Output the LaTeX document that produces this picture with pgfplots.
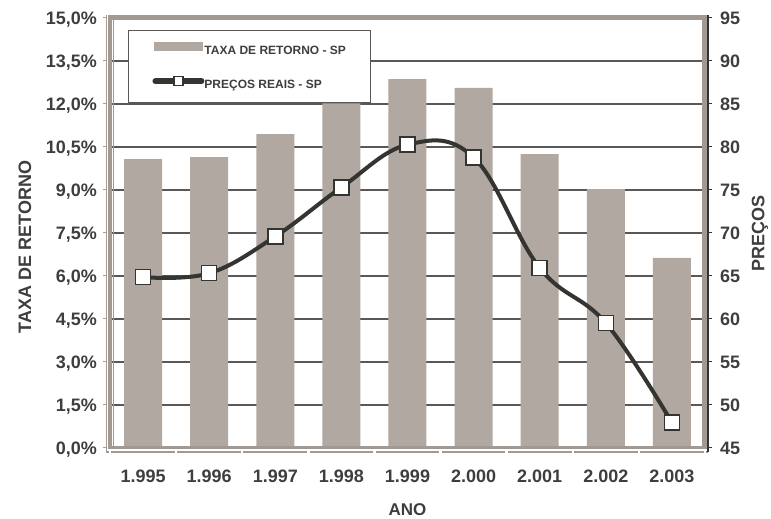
\documentclass[border=0pt]{standalone}
\usepackage{pgfplots}
\pgfplotsset{compat=1.18}
\usepackage{fontspec}
\setmainfont{Liberation Sans}
\definecolor{barC}{RGB}{177,168,161}
\definecolor{frameC}{RGB}{163,153,147}
\definecolor{lineC}{RGB}{52,52,48}
\definecolor{txtC}{RGB}{62,62,62}
\definecolor{gridC}{RGB}{88,88,88}
\begin{document}
\begin{tikzpicture}
\useasboundingbox (-110pt,-71pt) rectangle (661pt,448pt);
\pgfplotsset{
  base/.style={at={(0pt,0pt)}, anchor=south west, scale only axis,
    width=595pt, height=430pt, xmin=-0.5, xmax=8.5,
    axis line style={draw=none}, major tick length=0pt, tick style={draw=none},
    /pgf/number format/assume math mode=true},
  tl/.style={font=\fontsize{18}{18}\selectfont\bfseries, text=txtC},
}
\begin{axis}[base, ymin=0, ymax=15,
  ybar, bar width=38pt, bar shift=0pt,
  xtick={0,...,8},
  xticklabels={1.995,1.996,1.997,1.998,1.999,2.000,2.001,2.002,2.003},
  xticklabel style={tl, anchor=north, inner sep=0pt, yshift=-22pt},
  ytick={0,1.5,3,4.5,6,7.5,9,10.5,12,13.5,15},
  yticklabels={{0,0\%},{1,5\%},{3,0\%},{4,5\%},{6,0\%},{7,5\%},{9,0\%},{10,5\%},{12,0\%},{13,5\%},{15,0\%}},
  yticklabel style={tl, anchor=base east, inner sep=0pt, xshift=-13pt, yshift=-6.4pt},
  ymajorgrids, grid style={draw=gridC, line width=1.2pt},
  ylabel={TAXA DE RETORNO},
  every axis y label/.style={at={(axis description cs:-0.1429,0.4674)}, rotate=90, anchor=center,
    font=\fontsize{18}{18}\selectfont\bfseries, text=txtC},
  xlabel={ANO},
  every axis x label/.style={at={(axis description cs:0.5,-0.1442)}, anchor=center,
    font=\fontsize{17}{17}\selectfont\bfseries, text=txtC},
]
\addplot[fill=barC, draw=none] coordinates {
 (0,10.08) (1,10.15) (2,10.95) (3,12.02) (4,12.87) (5,12.56) (6,10.25) (7,9.03) (8,6.63)};
\end{axis}
% plot-area frame and axis lines
\fill[frameC] (-2pt,428pt) rectangle (597pt,433pt);
\fill[frameC] (592pt,0pt) rectangle (597pt,433pt);
\fill[frameC] (-2pt,-1pt) rectangle (2pt,433pt);
\fill[frameC] (-2pt,-1pt) rectangle (597pt,2pt);
\draw[frameC, line width=1pt] (3.8pt,2pt) -- (3.8pt,428pt);
\draw[frameC, line width=1.2pt] (-3.8pt,-4pt) -- (-3.8pt,433pt);
\foreach \k in {0,...,10} \draw[frameC, line width=1pt] (-3.8pt,\k*43pt) -- (-6.5pt,\k*43pt);
\draw[frameC, line width=2pt] (-3.8pt,-4pt) -- (598pt,-4pt);
\foreach \k in {0,...,9} \fill[white] ({\k*66.11pt-1.2pt},-5.5pt) rectangle ({\k*66.11pt+1.2pt},-2.5pt);
\draw[lineC, line width=1.5pt] (598pt,-4.5pt) -- (598pt,433pt);
\foreach \k in {0,...,10} \draw[lineC, line width=1pt] (598pt,\k*43pt) -- (602pt,\k*43pt);
\begin{axis}[base, ymin=45, ymax=95, hide x axis,
  ytick={45,50,55,60,65,70,75,80,85,90,95},
  yticklabel pos=right,
  yticklabel style={tl, anchor=base west, inner sep=0pt, xshift=15pt, yshift=-6.4pt},
  ylabel={PREÇOS},
  every axis y label/.style={at={(axis description cs:1.0924,0.5)}, rotate=90, anchor=center,
    font=\fontsize{18}{18}\selectfont\bfseries, text=txtC},
  legend style={at={(axis description cs:0.0303,0.9721)}, anchor=north west,
    draw=gridC, line width=0.8pt, fill=white, inner xsep=24pt, inner ysep=12pt,
    row sep=20pt, column sep=0pt,
    nodes={inner sep=0pt, font=\fontsize{12}{12}\selectfont\bfseries, text=txtC}},
  legend cell align=left,
]
\addlegendimage{legend image code/.code={\fill[barC] (0pt,0.3pt) rectangle (48pt,8.3pt);}}
\addlegendentry{TAXA DE RETORNO - SP}
\addplot[lineC, line width=4pt, smooth, tension=0.65, mark=square*, mark size=7.5pt,
  mark options={fill=white, draw=lineC, line width=1.5pt},
  legend image code/.code={
    \draw[lineC, line width=6pt, line cap=round] (1pt,4.3pt) -- (47pt,4.3pt);
    \draw[lineC, fill=white, line width=1.3pt] (19.5pt,-0.2pt) rectangle (28.5pt,8.8pt);}]
 coordinates {(0,64.87) (1,65.32) (2,69.6) (3,75.3) (4,80.27) (5,78.8) (6,65.94) (7,59.52) (8,47.96)};
\addlegendentry{PREÇOS REAIS - SP}
\end{axis}
\end{tikzpicture}
\end{document}
